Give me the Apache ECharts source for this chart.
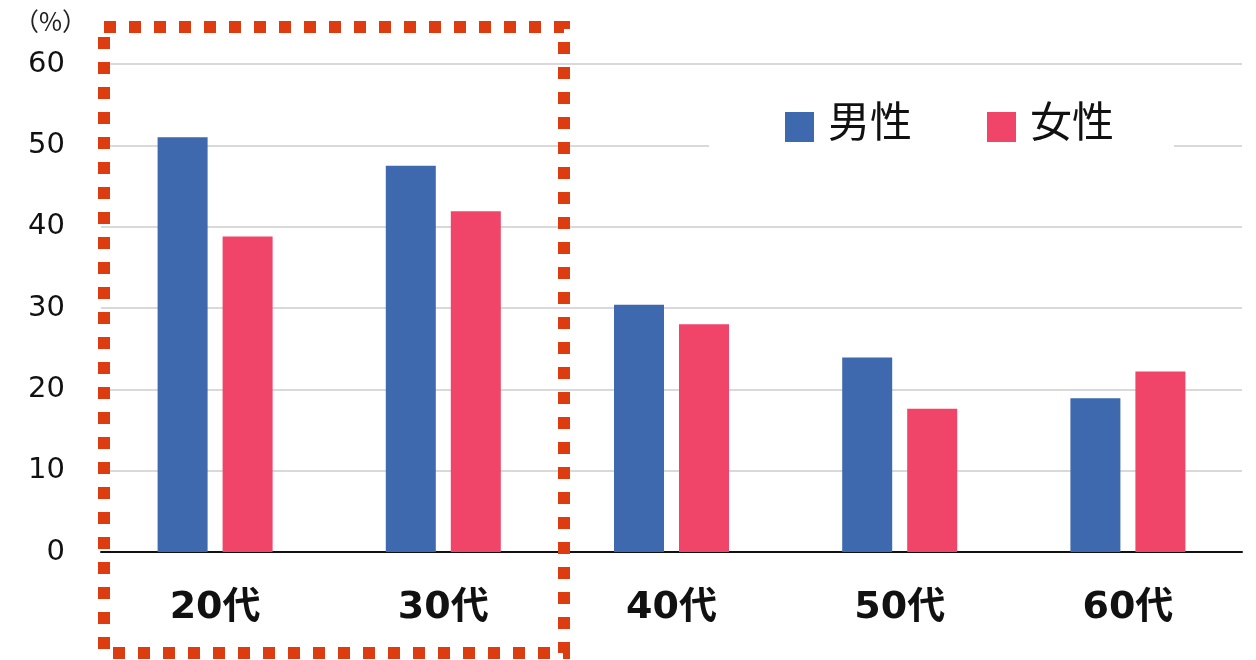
<!DOCTYPE html>
<html>
<head>
<meta charset="utf-8">
<script src="https://cdn.jsdelivr.net/npm/echarts@6/dist/echarts.min.js"></script>
<style>html,body{margin:0;padding:0;background:#fff}#c{width:1256px;height:660px}</style>
</head>
<body>
<div id="c"></div>
<script>
const categories = ['20代', '30代', '40代', '50代', '60代'];
const seriesNames = ['男性', '女性'];
const male = [51.0, 47.5, 30.4, 23.9, 18.9];
const female = [38.8, 41.9, 28.0, 17.6, 22.2];
const unitLabel = '（%）';

const FONT = '"DejaVu Sans", "Noto Sans CJK JP", sans-serif';
const chart = echarts.init(document.getElementById('c'));
chart.setOption({
  animation: false,
  backgroundColor: '#fff',
  textStyle: { fontFamily: FONT },
  grid: { left: 101, right: 14, top: 64, bottom: 108 },
  legend: {
    data: seriesNames,
    left: 709, top: 68,
    backgroundColor: '#fff',
    padding: [32, 60, 32, 76],
    itemWidth: 29, itemHeight: 30, itemGap: 75,
    icon: 'rect',
    formatter: '{t|{name}}',
    textStyle: {
      fontSize: 42, color: '#111', fontFamily: '"Noto Sans CJK JP", sans-serif', padding: [0, 0, 0, 9],
      rich: { t: { fontSize: 42, color: '#111', fontFamily: '"Noto Sans CJK JP", sans-serif', padding: [0, 0, 12, 0] } }
    },
    z: 5
  },
  xAxis: {
    type: 'category', data: categories,
    axisLine: { lineStyle: { color: '#111', width: 2 } },
    axisTick: { show: false },
    axisLabel: { fontSize: 38, fontWeight: 'bold', color: '#111', margin: 37, fontFamily: FONT }
  },
  yAxis: {
    type: 'value', min: 0, max: 60, interval: 10,
    name: unitLabel, nameLocation: 'end',
    nameGap: 30,
    nameTextStyle: { fontSize: 25, color: '#222', align: 'right', padding: [0, 14, 0, 0], fontFamily: '"Noto Sans CJK JP", sans-serif' },
    axisLine: { show: false }, axisTick: { show: false },
    splitLine: { lineStyle: { color: '#d9d9d9', width: 2 } },
    axisLabel: { fontSize: 29, color: '#111', margin: 36, fontFamily: FONT }
  },
  series: [
    { name: seriesNames[0], type: 'bar', data: male, barWidth: 50, barGap: '30%', itemStyle: { color: '#3E69AE' } },
    { name: seriesNames[1], type: 'bar', data: female, barWidth: 50, itemStyle: { color: '#F04468' } }
  ],
  graphic: [{
    type: 'rect', z: 100,
    shape: { x: 104, y: 27, width: 460, height: 626 },
    style: { fill: 'none', stroke: '#DD3B10', lineWidth: 12, lineDash: [12, 13] }
  }]
});
</script>
</body>
</html>
